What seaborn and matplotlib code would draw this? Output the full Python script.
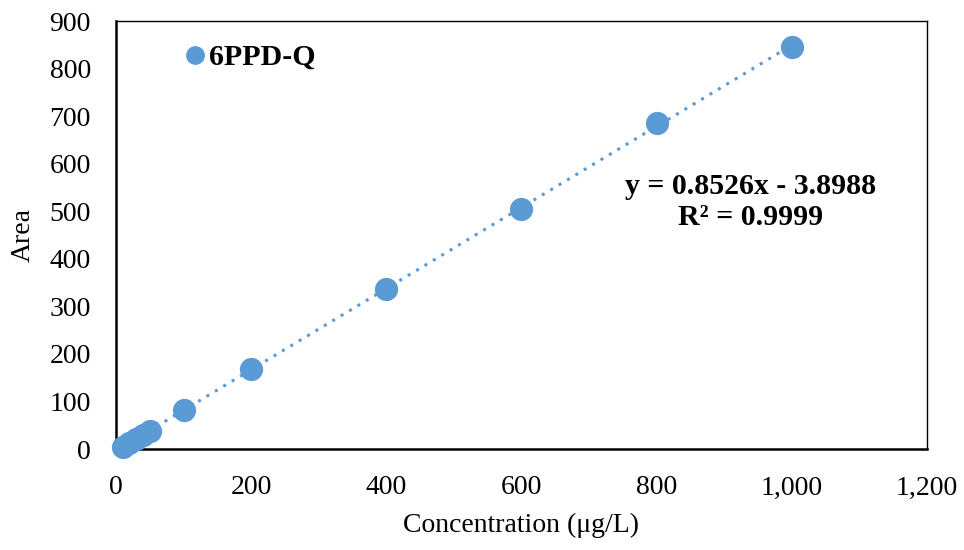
import matplotlib
matplotlib.use("Agg")
import matplotlib.pyplot as plt
import matplotlib.ticker as mticker
import seaborn as sns
import pandas as pd
from matplotlib.lines import Line2D

concentration = [10, 20, 30, 40, 50, 100, 200, 400, 600, 800, 1000]
area = [5, 13, 22, 30, 38, 82, 168, 337, 505, 686, 845]
series_name = "6PPD-Q"
equation = "y = 0.8526x - 3.8988\nR² = 0.9999"
x_ticks = [0, 200, 400, 600, 800, 1000, 1200]
y_ticks = [0, 100, 200, 300, 400, 500, 600, 700, 800, 900]

df = pd.DataFrame({"Concentration": concentration, "Area": area})

sns.set_style("white")
plt.rcParams["font.family"] = ["Liberation Serif", "DejaVu Serif"]
plt.rcParams["text.color"] = "black"
plt.rcParams["axes.labelcolor"] = "black"

color = "#5B9BD5"
fig = plt.figure(figsize=(9.64, 5.5), dpi=100)
ax = fig.add_axes([0.1203, 0.1836, 0.8413, 0.7782])

sns.regplot(data=df, x="Concentration", y="Area", ax=ax, ci=None,
            color=color,
            scatter_kws={"s": 280, "alpha": 1, "linewidths": 0, "zorder": 3,
                         "clip_on": False},
            line_kws={"linestyle": (0, (1, 2.2)), "linewidth": 2.2, "zorder": 2})

ax.set_xlim(0, 1200)
ax.set_ylim(0, 900)
ax.set_xticks(x_ticks)
ax.set_yticks(y_ticks)
ax.xaxis.set_major_formatter(mticker.FuncFormatter(lambda v, p: f"{int(v):,}"))
ax.tick_params(axis="both", direction="in", length=8, width=1.5, labelsize=20,
               colors="black")
ax.tick_params(axis="y", pad=18)
ax.tick_params(axis="x", pad=19)

for side in ["left", "bottom"]:
    ax.spines[side].set_linewidth(1.8)
    ax.spines[side].set_color("black")
for side in ["top", "right"]:
    ax.spines[side].set_visible(True)
    ax.spines[side].set_linewidth(1.0)
    ax.spines[side].set_color("black")

ax.set_xlabel("Concentration (μg/L)", fontsize=20, labelpad=9)
ax.set_ylabel("Area", fontsize=20, labelpad=10)

handle = Line2D([], [], marker="o", linestyle="none", color=color, markersize=12.5)
leg = ax.legend([handle], [series_name], loc="upper left",
                bbox_to_anchor=(0.027, 1.009), frameon=False,
                handletextpad=-0.52, prop={"weight": "bold", "size": 21.5})

ax.text(0.782, 0.577, equation, transform=ax.transAxes, ha="center", va="center",
        multialignment="center", fontsize=21.5, fontweight="bold", linespacing=1.15)

fig.savefig("out.png", dpi=100)
